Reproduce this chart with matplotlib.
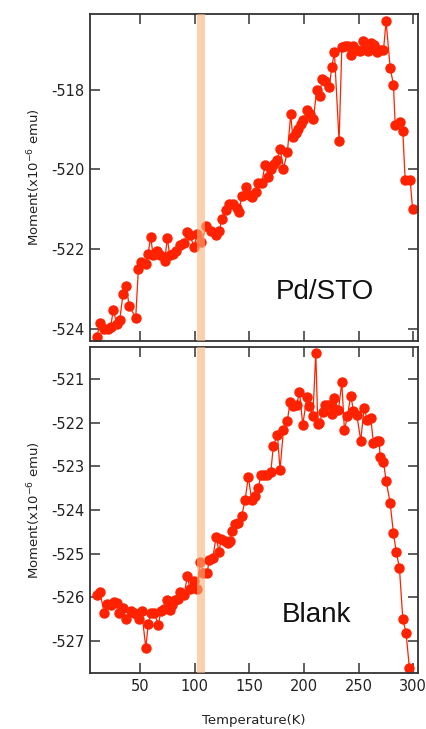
import matplotlib
matplotlib.use("Agg")
import matplotlib.pyplot as plt

plt.rcParams["axes.unicode_minus"] = False

# ---- data: Pd/STO ----
T_pd = [10.7, 13.2, 17.1, 20.8, 23.2, 25.6, 28.7, 31.5, 34.5, 37.5, 40.0, 46.1, 48.5, 51.2,
        55.3, 57.4, 59.8, 62.0, 65.9, 68.1, 72.6, 75.0, 77.2, 80.2, 83.3, 86.4, 90.0, 93.0,
        95.5, 99.4, 102.5, 106.1, 110.7, 115.3, 119.9, 122.6, 124.8, 128.5, 131.7, 135.4,
        138.5, 140.6, 143.0, 146.8, 149.8, 152.8, 156.2, 157.7, 161.4, 164.4, 167.4, 169.6,
        172.6, 175.6, 178.1, 181.2, 184.8, 187.9, 189.7, 192.8, 194.9, 197.1, 199.5, 202.6,
        205.6, 208.6, 211.7, 214.7, 216.3, 219.3, 223.2, 225.4, 227.8, 232.1, 234.6, 237.6,
        240.6, 243.1, 245.2, 248.3, 251.3, 254.3, 257.4, 258.9, 261.1, 264.1, 267.1, 269.6,
        272.7, 275.1, 278.8, 281.8, 283.4, 288.0, 290.4, 292.5, 297.1, 299.3]
M_pd = [-524.22, -523.85, -524.00, -524.00, -523.96, -523.52, -523.88, -523.77, -523.13,
        -522.92, -523.42, -523.73, -522.51, -522.33, -522.37, -522.12, -521.70, -522.16,
        -522.04, -522.16, -522.29, -521.73, -522.16, -522.12, -522.05, -521.89, -521.85,
        -521.58, -521.64, -521.94, -521.62, -521.83, -521.43, -521.55, -521.66, -521.55,
        -521.24, -521.02, -520.86, -520.86, -520.97, -521.07, -520.68, -520.45, -520.65,
        -520.70, -520.57, -520.34, -520.35, -519.88, -520.18, -519.98, -519.86, -519.76,
        -519.48, -519.98, -519.57, -518.62, -519.19, -519.09, -518.98, -518.85, -518.75,
        -518.52, -518.60, -518.73, -518.00, -518.17, -517.72, -517.77, -517.93, -517.43,
        -517.06, -519.29, -516.94, -516.90, -516.90, -517.12, -516.91, -517.01, -517.04,
        -516.79, -516.93, -517.03, -516.83, -516.89, -517.06, -517.00, -517.01, -516.28,
        -517.45, -517.87, -518.88, -518.81, -519.04, -520.26, -520.26, -521.00]

# ---- data: Blank ----
T_bl = [10.4, 13.4, 17.1, 20.1, 23.2, 26.3, 28.7, 31.1, 34.8, 37.2, 41.5, 44.6, 47.6, 49.4,
        51.6, 55.3, 57.6, 60.1, 63.1, 66.8, 69.0, 72.0, 74.5, 77.5, 79.1, 82.1, 85.1, 86.6,
        90.3, 93.3, 95.8, 99.5, 102.5, 105.0, 108.0, 111.3, 113.4, 116.5, 119.6, 122.3,
        124.2, 127.8, 130.3, 132.4, 134.0, 137.0, 140.0, 143.1, 146.1, 149.1, 152.2, 155.3,
        158.3, 160.5, 163.5, 166.5, 169.6, 172.0, 175.7, 178.1, 181.2, 184.8, 187.3, 190.4,
        193.4, 195.8, 198.9, 202.6, 205.0, 208.1, 210.8, 212.6, 214.1, 217.2, 219.3, 222.3,
        224.5, 225.4, 227.8, 231.5, 234.6, 237.0, 239.7, 242.8, 245.2, 248.3, 251.9, 255.0,
        258.0, 261.1, 263.5, 266.6, 268.7, 269.6, 272.7, 275.1, 278.8, 281.8, 284.3, 287.3,
        290.4, 293.4, 296.4]
M_bl = [-525.94, -525.87, -526.35, -526.15, -526.17, -526.10, -526.13, -526.35, -526.25,
        -526.50, -526.32, -526.36, -526.38, -526.50, -526.32, -527.15, -526.61, -526.35,
        -526.35, -526.63, -526.32, -526.27, -526.06, -526.29, -526.17, -526.07, -526.04,
        -525.87, -525.94, -525.52, -525.81, -525.62, -525.81, -525.18, -525.43, -525.45,
        -525.14, -525.10, -524.62, -524.95, -524.67, -524.72, -524.76, -524.72, -524.47,
        -524.32, -524.30, -524.13, -523.78, -523.24, -523.78, -523.69, -523.49, -523.20,
        -523.20, -523.20, -523.14, -522.53, -522.28, -523.08, -522.17, -521.96, -521.52,
        -521.63, -521.59, -521.29, -522.05, -521.42, -521.63, -521.86, -520.40, -522.03,
        -522.01, -521.75, -521.60, -521.60, -521.60, -521.80, -521.44, -521.71, -521.08,
        -522.18, -521.85, -521.38, -521.73, -521.82, -522.41, -521.67, -521.94, -521.90,
        -522.47, -522.43, -522.41, -522.78, -522.89, -523.33, -523.84, -524.53, -524.95,
        -525.33, -526.50, -526.82, -527.62]

x_ticks = [50, 100, 150, 200, 250, 300]
y_ticks_pd = [-518, -520, -522, -524]
y_ticks_bl = [-521, -522, -523, -524, -525, -526, -527]
band = (102, 109.5)
labels = ["Pd/STO", "Blank"]

RED = "#FF2200"
fig = plt.figure(figsize=(4.26, 7.29), dpi=100)
ax1 = fig.add_axes([0.2113, 0.5322, 0.770, 0.4486])
ax2 = fig.add_axes([0.2113, 0.0768, 0.770, 0.4472])

def style(ax, yt, show_x):
    for s in ax.spines.values():
        s.set_linewidth(1.3)
        s.set_color("#333333")
    ax.set_xlim(4.3, 304.3)
    ax.set_xticks(x_ticks)
    ax.set_yticks(yt)
    ax.tick_params(direction="in", length=7, width=1.1, color="#333333",
                   top=True, right=True, labelsize=10.5, labelcolor="#222222", pad=4)
    if not show_x:
        ax.tick_params(labelbottom=False)
    ax.set_ylabel("Moment(x10$^{-6}$ emu)", fontsize=9.5, color="#222222", labelpad=6)

ax1.plot(T_pd, M_pd, "-o", color=RED, lw=0.9, ms=6.5, mec=RED, zorder=2)
ax1.axvspan(*band, facecolor="#F9B27A", alpha=0.6, lw=0, zorder=3)
ax1.set_ylim(-524.31, -516.1)
style(ax1, y_ticks_pd, False)
ax1.text(219.3, -523.09, labels[0], fontsize=20, ha="center", va="center",
         family="Liberation Sans", color="#111111")

ax2.plot(T_bl, M_bl, "-o", color=RED, lw=0.9, ms=6.5, mec=RED, zorder=2)
ax2.axvspan(*band, facecolor="#F9B27A", alpha=0.6, lw=0, zorder=3)
ax2.set_ylim(-527.73, -520.27)
style(ax2, y_ticks_bl, True)
ax2.text(211, -526.4, labels[1], fontsize=20, ha="center", va="center",
         family="Liberation Sans", color="#111111")
ax2.set_xlabel("Temperature(K)", fontsize=9.5, color="#222222", labelpad=15)

fig.savefig("out.png", dpi=100)
